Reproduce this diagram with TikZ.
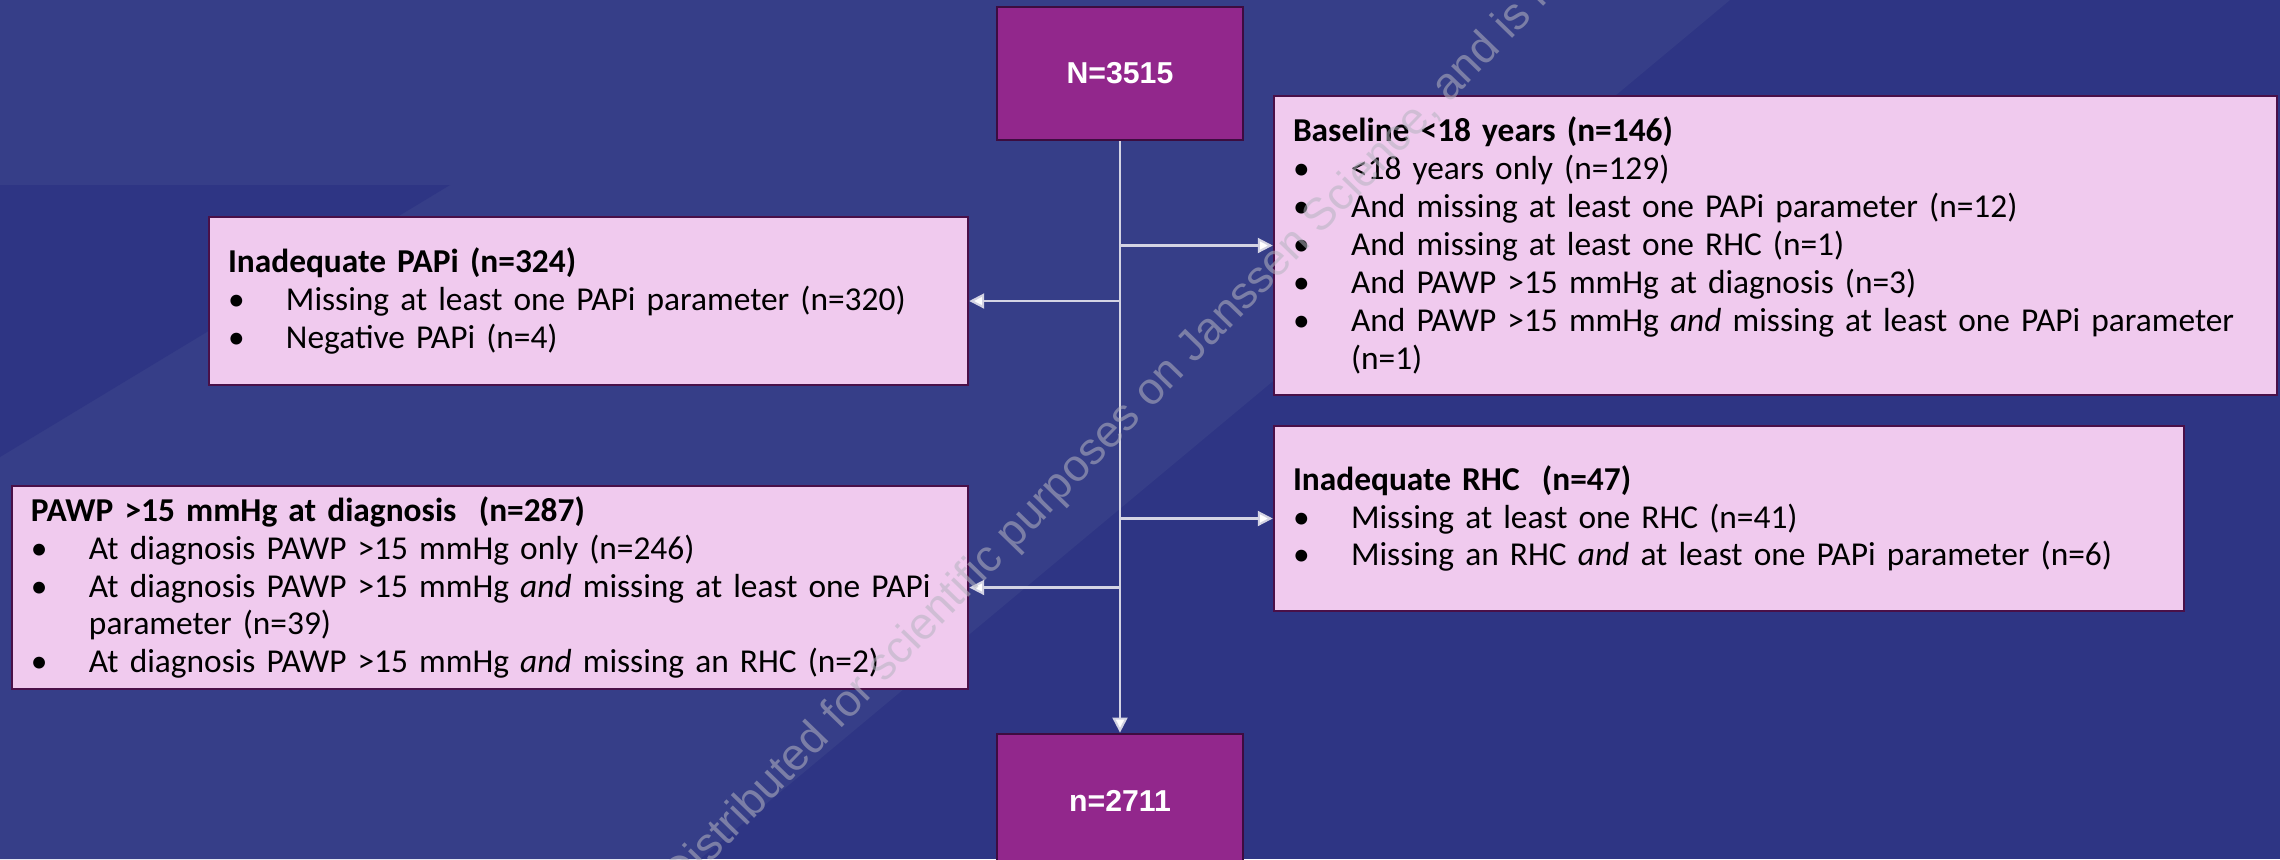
\documentclass[tikz,border=0pt]{standalone}
\usepackage{fontspec}
\setmainfont{Carlito}
\newfontfamily\headfont{Liberation Sans}
\newfontfamily\markfont{Liberation Sans}
\usetikzlibrary{arrows.meta}
\definecolor{bgDark}{HTML}{2E3584}
\definecolor{bgLight}{HTML}{363E88}
\definecolor{plumFill}{HTML}{92278C}
\definecolor{plumDraw}{HTML}{3D0C40}
\definecolor{pinkFill}{HTML}{F0CAEE}
\definecolor{pinkDraw}{HTML}{4A1048}
\definecolor{lineGry}{HTML}{D4D4E4}
\definecolor{markGry}{HTML}{B4B4C0}
\hyphenpenalty=10000
\exhyphenpenalty=10000

% bullet line with hanging indent
\newcommand{\bul}[1]{\par\hangindent=0.58cm\hangafter=1\noindent\makebox[0.58cm][l]{\textbullet}#1\par}

\begin{document}
\begin{tikzpicture}[
  plumbox/.style={rectangle, draw=plumDraw, fill=plumFill, line width=0.8pt,
                  minimum width=2.46cm, minimum height=1.33cm, text=white,
                  font=\headfont\bfseries\fontsize{8.6}{10}\selectfont},
  pinkbox/.style={rectangle, draw=pinkDraw, fill=pinkFill, line width=0.7pt, text=black,
                  align=left, inner xsep=0.19cm, inner ysep=0pt,
                  font=\fontsize{9.5}{10.8}\selectfont},
  trunk/.style={-{Triangle[length=0.15cm,width=0.15cm,fill=white]}, line width=0.6pt, draw=lineGry},
  arr/.style={trunk},
]
\useasboundingbox (0,0) rectangle (22.8,-8.59);

% ---- Background ----
\fill[bgDark] (0,0) rectangle (22.8,-8.59);
\fill[bgLight] (0,0) -- (17.3,0) -- (7.0,-8.59) -- (0,-8.59) -- cycle;
\fill[bgDark] (0,-1.85) -- (4.5,-1.85) -- (0,-4.57) -- cycle;

% ---- Start and end counts ----
\node[plumbox] (top) at (11.20,-0.735) {N=3515};
\node[plumbox] (bot) at (11.20,-8.005) {n=2711};

% ---- Exclusion boxes ----
\node[pinkbox, text width=9.65cm, minimum height=2.99cm] (base) at (17.755,-2.455)
  {\textbf{Baseline <18 years (n=146)}
   \bul{<18 years only (n=129)}
   \bul{And missing at least one PAPi parameter (n=12)}
   \bul{And missing at least one RHC (n=1)}
   \bul{And PAWP >15 mmHg at diagnosis (n=3)}
   \bul{And PAWP >15 mmHg \textit{and} missing at least one PAPi parameter\newline (n=1)}};

\node[pinkbox, text width=8.72cm, minimum height=1.85cm] (rhc) at (17.29,-5.185)
  {\textbf{Inadequate RHC\ \ (n=47)}
   \bul{Missing at least one RHC (n=41)}
   \bul{Missing an RHC \textit{and} at least one PAPi parameter (n=6)}};

\node[pinkbox, text width=7.21cm, minimum height=1.68cm] (papi) at (5.885,-3.01)
  {\textbf{Inadequate PAPi (n=324)}
   \bul{Missing at least one PAPi parameter (n=320)}
   \bul{Negative PAPi (n=4)}};

\node[pinkbox, text width=9.18cm, minimum height=2.03cm] (pawp) at (4.90,-5.875)
  {\textbf{PAWP >15 mmHg at diagnosis\ \ (n=287)}
   \bul{At diagnosis PAWP >15 mmHg only (n=246)}
   \bul{At diagnosis PAWP >15 mmHg \textit{and} missing at least one PAPi\newline parameter (n=39)}
   \bul{At diagnosis PAWP >15 mmHg \textit{and} missing an RHC (n=2)}};

% ---- Connectors ----
\draw[trunk] (top) -- (bot);
\draw[arr] (top.south |- base.west) -- (base.west);
\draw[arr] (top.south |- papi.east) -- (papi.east);
\draw[arr] (top.south |- rhc.west) -- (rhc.west);
\draw[arr] (top.south |- pawp.east) -- (pawp.east);

% ---- Watermark ----
\node[font=\markfont\fontsize{12.8}{15}\selectfont, text=markGry, text opacity=0.55,
      rotate=45.8, anchor=west, inner sep=0pt] (mark) at (6.72,-8.86)
  {Distributed for scientific purposes on Janssen Science, and is no};
\end{tikzpicture}
\end{document}
